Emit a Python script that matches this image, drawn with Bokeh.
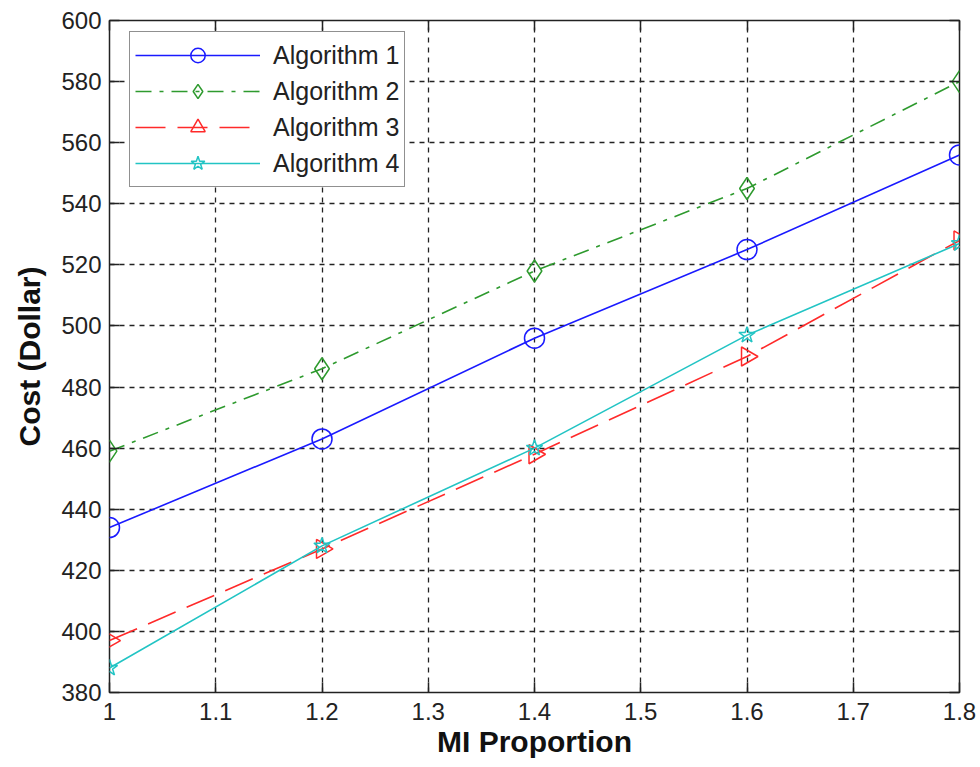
import math
from bokeh.plotting import figure
from bokeh.models import LinearAxis, FixedTicker, Legend, LegendItem, Range1d
from bokeh.embed import file_html
from bokeh.resources import INLINE

x_vals = [1.0, 1.2, 1.4, 1.6, 1.8]
algo1 = [434, 463, 496, 525, 556]
algo2 = [459, 486, 518, 545, 580]
algo3 = [397, 427, 458, 490, 528]
algo4 = [388, 428, 460, 497, 527]
series_names = ["Algorithm 1", "Algorithm 2", "Algorithm 3", "Algorithm 4"]
x_ticks = [1.0, 1.1, 1.2, 1.3, 1.4, 1.5, 1.6, 1.7, 1.8]
y_ticks = [380, 400, 420, 440, 460, 480, 500, 520, 540, 560, 580, 600]

FONT = "Liberation Sans"

p = figure(width=980, height=767, output_backend="svg", toolbar_location=None,
           x_range=Range1d(1.0, 1.8), y_range=Range1d(380, 600),
           min_border_left=109, min_border_right=21, min_border_top=20, min_border_bottom=75)
p.background_fill_color = "white"
p.border_fill_color = "white"
p.outline_line_color = "#222222"
p.outline_line_width = 1.5

# grids
for g in (p.xgrid, p.ygrid):
    g.grid_line_color = "#222222"
    g.grid_line_dash = "5 5"
    g.grid_line_width = 1.3
p.xgrid.ticker = FixedTicker(ticks=x_ticks)
p.ygrid.ticker = FixedTicker(ticks=y_ticks)

# axes
xa = p.xaxis[0]
ya = p.yaxis[0]
xa.ticker = FixedTicker(ticks=x_ticks)
ya.ticker = FixedTicker(ticks=y_ticks)
xa.major_label_overrides = {1.0: "1"}
for ax in (xa, ya):
    ax.axis_line_color = None
    ax.major_tick_in = 10
    ax.major_tick_out = 0
    ax.major_tick_line_color = "#222222"
    ax.major_tick_line_width = 1.5
    ax.minor_tick_line_color = None
    ax.major_label_text_font = FONT
    ax.major_label_text_font_size = "24px"
    ax.major_label_text_color = "#222222"
    ax.axis_label_text_font = FONT
    ax.axis_label_text_font_size = "30px"
    ax.axis_label_text_font_style = "bold"
    ax.axis_label_text_color = "#111111"
xa.axis_label = "MI Proportion"
ya.axis_label = "Cost (Dollar)"
xa.major_label_standoff = 10
ya.major_label_standoff = 8
xa.axis_label_standoff = 2
ya.axis_label_standoff = 12

# top/right tick-only axes (no labels drawn)
ta = LinearAxis(ticker=FixedTicker(ticks=x_ticks))
ra = LinearAxis(ticker=FixedTicker(ticks=y_ticks))
for ax in (ta, ra):
    ax.axis_line_color = None
    ax.major_tick_in = 10
    ax.major_tick_out = 0
    ax.major_tick_line_color = "#222222"
    ax.major_tick_line_width = 1.5
    ax.minor_tick_line_color = None
    ax.major_label_text_color = None
    ax.major_label_text_font_size = "1px"
    ax.major_label_standoff = 0
p.add_layout(ta, "above")
p.add_layout(ra, "right")

colors = ["#1a1aff", "#2e9a2e", "#ff2a2a", "#22c4c4"]
dashes = ["solid", "16 8 4 8", "30 12", "solid"]
markers = ["circle", "diamond", "triangle", "star"]
angles = [0, 0, -math.pi / 2, 0]
sizes = [20, 22, 19, 17]
data = [algo1, algo2, algo3, algo4]

items = []
for name, ys, c, d, m, a, s in zip(series_names, data, colors, dashes, markers, angles, sizes):
    r1 = p.line(x_vals, ys, line_color=c, line_dash=d, line_width=1.6)
    r2 = p.scatter(x_vals, ys, marker=m, size=s, angle=a, line_color=c,
                   fill_color=None, line_width=1.5)
    items.append(LegendItem(label=name, renderers=[r1, r2]))

legend = Legend(items=items, location=(20, 505))
legend.background_fill_color = "white"
legend.background_fill_alpha = 1.0
legend.border_line_color = "#222222"
legend.border_line_width = 1.5
legend.label_text_font = FONT
legend.label_text_font_size = "25px"
legend.label_text_color = "#222222"
legend.glyph_width = 125
legend.glyph_height = 36
legend.label_height = 36
legend.label_standoff = 13
legend.spacing = 0
legend.padding = 5
legend.margin = 0
p.add_layout(legend, "center")

open("out.html", "w").write(file_html(p, INLINE))
